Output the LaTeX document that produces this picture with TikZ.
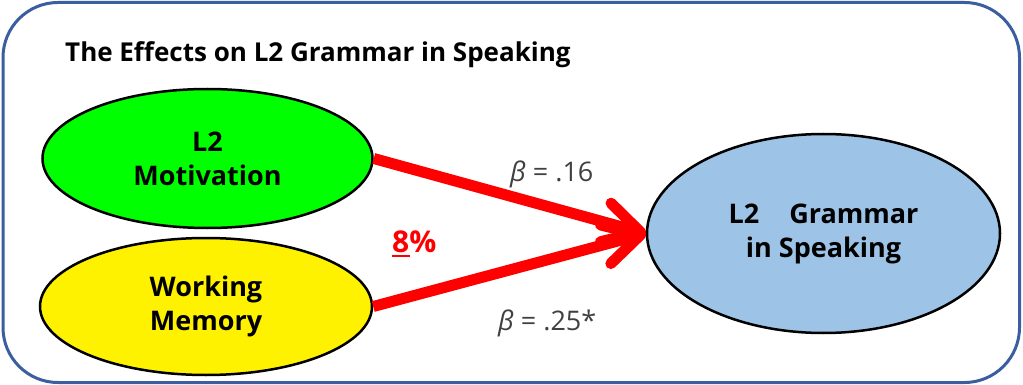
\documentclass[tikz,border=0pt]{standalone}
\usepackage{fontspec}
\setmainfont{Open Sans}
\usetikzlibrary{shapes.geometric,arrows.meta}
\definecolor{cadre}{RGB}{59,94,160}
\definecolor{bleuclair}{RGB}{157,195,230}
\definecolor{gristexte}{RGB}{64,64,64}

\begin{document}
\begin{tikzpicture}[x=1pt, y=-1pt,
    varbox/.style={ellipse, draw=black, line width=2.5pt, inner sep=0pt, align=center,
      font=\fontsize{27}{34}\selectfont\bfseries},
    fleche/.style={draw=red, line width=11pt, -{Straight Barb[length=36pt,width=40pt,round]}},
    coef/.style={text=gristexte, font=\fontsize{27}{30}\selectfont, inner sep=0pt, anchor=base west}]
  \useasboundingbox (0,0) rectangle (1023,385);
  % cadre
  \draw[cadre, line width=3pt, rounded corners=55pt] (3,2.5) rectangle (1019.5,382.5);
  % titre
  \node[anchor=base west, inner sep=0pt, font=\fontsize{26}{30}\selectfont\bfseries] (titre)
    at (65,62) {The Effects on L2 Grammar in Speaking};
  % variables
  \node[varbox, fill=green, minimum width=330pt, minimum height=139pt] (motiv)
    at (207.5,158.5) {L2\\Motivation};
  \node[varbox, fill=yellow, minimum width=332pt, minimum height=137pt] (memo)
    at (206,306.5) {Working\\Memory};
  \node[varbox, fill=bleuclair, minimum width=353pt, minimum height=199pt] (gram)
    at (823.5,233.5) {L2\hspace{30pt}Grammar\\in Speaking};
  % fleches
  \draw[fleche] (motiv.east) -- (gram.west);
  \draw[fleche] (memo.east) -- (gram.west);
  % coefficients
  \node[coef] (b1) at (510,182) {{\itshape β} = .16};
  \node[coef] (b2) at (498,330) {{\itshape β} = .25*};
  \node[anchor=base west, inner sep=0pt, text=red, font=\fontsize{30}{36}\selectfont\bfseries] (pct)
    at (392,252) {\rlap{\color{red}\rule[-5pt]{18pt}{2.5pt}}8\%};
\end{tikzpicture}
\end{document}
